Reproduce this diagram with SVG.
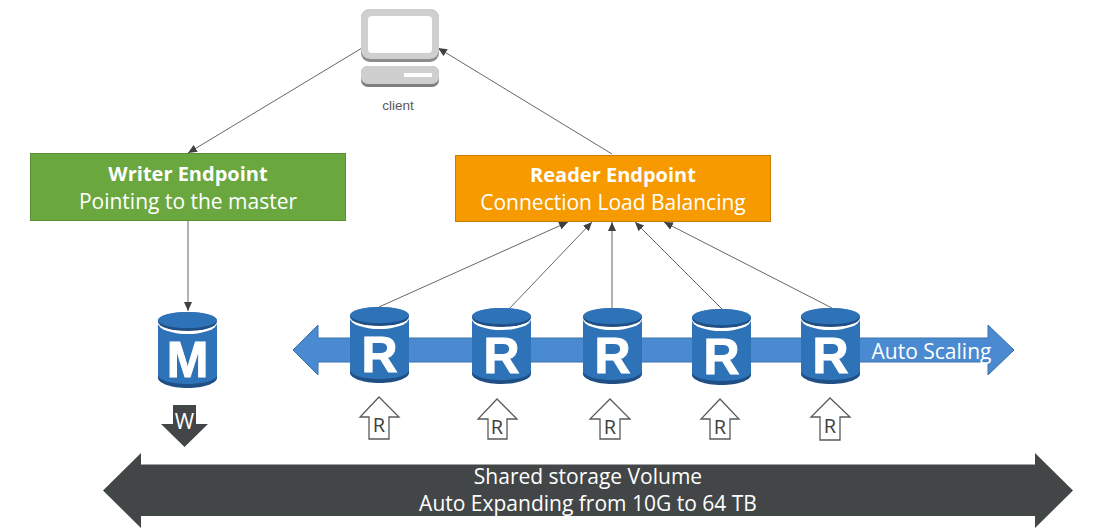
<svg xmlns="http://www.w3.org/2000/svg" width="1097" height="530" viewBox="0 0 1097 530">
<style>
text{font-family:"Open Sans","Noto Sans","Liberation Sans",sans-serif;text-anchor:middle}
.conn{stroke:#404040;stroke-width:.8;fill:none;marker-end:url(#ah)}
.t{font-size:21px;fill:#fff}
.b{font-weight:700;font-size:20px}
.up{fill:#fff;stroke:#595959;stroke-width:1.3}
.r{font-size:20px;fill:#404040}
.db{font-family:"Liberation Sans",sans-serif;font-weight:700;font-size:50px;fill:#fff;stroke:#fff;stroke-width:1}
</style>
<defs>
<marker id="ah" markerWidth="10" markerHeight="8" refX="9" refY="4" orient="auto" markerUnits="userSpaceOnUse"><path d="M0 0L9 4L0 8z" fill="#404040"/></marker>
<g id="cyl">
<path d="M0 9V66C0 71 13 76 29.500 76S59 71 59 66V9z" fill="#1f4f85"/>
<path d="M0 9V63C0 68 13 72 29.500 72S59 68 59 63V9z" fill="#2e73b8"/>
<ellipse cx="29.500" cy="11" rx="29.500" ry="11" fill="#fff"/>
<ellipse cx="29.500" cy="9.500" rx="29.500" ry="9.500" fill="#1f4f85"/>
<ellipse cx="29.500" cy="8" rx="29.500" ry="8" fill="#2e73b8"/>
</g>
</defs>
<g id="storage-arrow"><path d="M103 490.500L141 453V464.500H1035V453L1073 490.500L1035 528V516H141V528z" fill="#434647"/>
<text x="588" y="484" class="t">Shared storage Volume</text><text x="588" y="511" class="t">Auto Expanding from 10G to 64 TB</text></g>
<g id="scaling-arrow"><path d="M293 350L318 325V338H988V325L1014 350L988 375V362H318V375z" fill="#4a8ad0" stroke="#3a70a8"/>
<text x="931.500" y="359" class="t">Auto Scaling</text></g>
<g id="connectors">
<path class="conn" d="M362 48L188 153"/>
<path class="conn" d="M612 154L438 48"/>
<path class="conn" d="M188 220V311"/>
<path class="conn" d="M379 307L568 222"/>
<path class="conn" d="M509 309L592 222"/>
<path class="conn" d="M612 308V222"/>
<path class="conn" d="M722 309L635 222"/>
<path class="conn" d="M832 308L664 222"/>
</g>
<g id="client">
<rect x="361" y="9" width="78" height="53" rx="9" fill="#8c8c8c"/>
<rect x="361" y="9" width="78" height="50" rx="9" fill="#cfcfcf"/>
<rect x="368" y="16" width="64" height="37" rx="4" fill="#fff"/>
<rect x="361" y="66" width="78" height="21" rx="7" fill="#7f7f7f"/>
<rect x="361" y="66" width="78" height="18" rx="7" fill="#cfcfcf"/>
<rect x="404" y="73" width="28" height="4" fill="#fff"/>
<text x="398" y="110" style="font-family:'Liberation Sans',sans-serif;font-size:13.500px;fill:#595959">client</text>
</g>
<g id="writer"><rect x="30.500" y="153.500" width="315" height="67" fill="#6aa73f" stroke="#5a8f35"/>
<text x="188" y="181" class="t b">Writer Endpoint</text><text x="188" y="209" class="t">Pointing to the master</text></g>
<g id="reader"><rect x="455.500" y="155.500" width="315" height="66" fill="#f79a00" stroke="#c77d00"/>
<text x="613" y="182" class="t b">Reader Endpoint</text><text x="613" y="210" class="t">Connection Load Balancing</text></g>
<g id="master"><use href="#cyl" x="158" y="312"/><text x="187.500" y="377" class="db">M</text></g>
<g id="r1"><use href="#cyl" x="350" y="307"/><text x="379.500" y="372" class="db">R</text></g>
<g id="r2"><use href="#cyl" x="472" y="308"/><text x="501.500" y="373" class="db">R</text></g>
<g id="r3"><use href="#cyl" x="583" y="308"/><text x="612.500" y="373" class="db">R</text></g>
<g id="r4"><use href="#cyl" x="692" y="309"/><text x="721.500" y="374" class="db">R</text></g>
<g id="r5"><use href="#cyl" x="801" y="308"/><text x="830.500" y="373" class="db">R</text></g>
<g id="w"><path d="M173 405H196V424H208L184.500 447L161 424H173z" fill="#434647"/><text x="184.500" y="429" style="font-size:21px;fill:#fff">W</text></g>
<g id="u1"><path class="up" d="M379 397L399 417H389V439H369V417H360z"/><text x="379" y="432" class="r">R</text></g>
<g id="u2"><path class="up" d="M497 399L517 419H507V439H488V419H478z"/><text x="497" y="434" class="r">R</text></g>
<g id="u3"><path class="up" d="M610 399L630 419H620V439H600V419H590z"/><text x="610" y="434" class="r">R</text></g>
<g id="u4"><path class="up" d="M720 399L739 419H730V439H710V419H701z"/><text x="720" y="434" class="r">R</text></g>
<g id="u5"><path class="up" d="M830 398L850 417H840V440H820V417H811z"/><text x="830" y="433" class="r">R</text></g>
</svg>
